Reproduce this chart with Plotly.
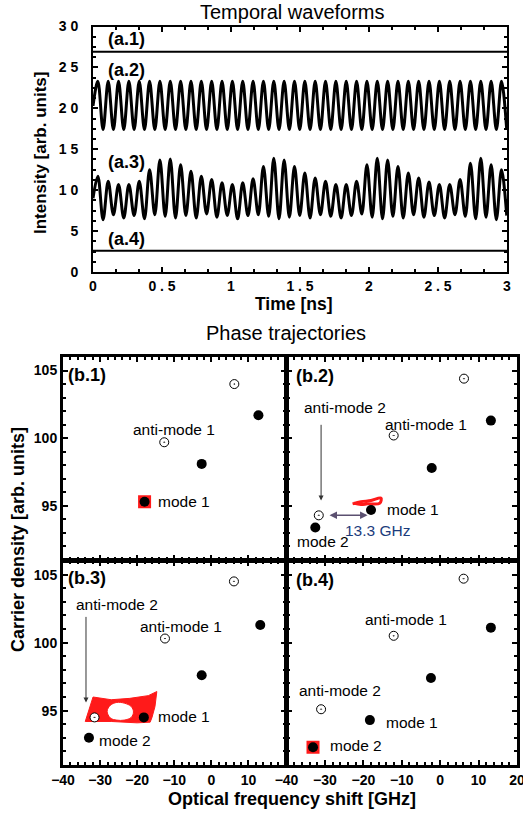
import plotly.graph_objects as go

W, H = 523, 814

# ---------------- data: temporal waveforms ----------------
peak_times = [0.035, 0.110, 0.185, 0.260, 0.335, 0.410, 0.485, 0.560, 0.635, 0.710,
              0.785, 0.860, 0.935, 1.010, 1.085, 1.160, 1.235, 1.310, 1.385, 1.460,
              1.535, 1.610, 1.685, 1.760, 1.835, 1.910, 1.985, 2.060, 2.135, 2.210,
              2.285, 2.360, 2.435, 2.510, 2.585, 2.660, 2.735, 2.810, 2.885, 2.960]
trough_times = [0.073, 0.148, 0.223, 0.298, 0.373, 0.448, 0.523, 0.598, 0.673, 0.748,
                0.823, 0.898, 0.973, 1.048, 1.123, 1.198, 1.273, 1.348, 1.423, 1.498,
                1.573, 1.648, 1.723, 1.798, 1.873, 1.948, 2.023, 2.098, 2.173, 2.248,
                2.323, 2.398, 2.473, 2.548, 2.623, 2.698, 2.773, 2.848, 2.923, 2.998]

a1_time = [0.0, 3.0]
a1_level = [26.9, 26.9]
a4_time = [0.0, 3.0]
a4_level = [2.6, 2.6]

a2_start = 20.3
a2_peaks = [23.3, 23.3, 23.3, 23.3, 23.3, 23.3, 23.3, 23.3, 23.3, 23.3,
            23.3, 23.3, 23.3, 23.3, 23.3, 23.3, 23.3, 23.3, 23.3, 23.3,
            23.3, 23.3, 23.3, 23.3, 23.3, 23.3, 23.3, 23.3, 23.3, 23.3,
            23.3, 23.3, 23.3, 23.3, 23.3, 23.3, 23.3, 23.3, 23.3, 23.3]
a2_troughs = [17.4, 17.4, 17.4, 17.4, 17.4, 17.4, 17.4, 17.4, 17.4, 17.4,
              17.4, 17.4, 17.4, 17.4, 17.4, 17.4, 17.4, 17.4, 17.4, 17.4,
              17.4, 17.4, 17.4, 17.4, 17.4, 17.4, 17.4, 17.4, 17.4, 17.4,
              17.4, 17.4, 17.4, 17.4, 17.4, 17.4, 17.4, 17.4, 17.4, 17.4]

a3_start = 9.0
a3_peaks = [11.7, 11.1, 10.7, 10.7, 11.1, 12.5, 13.7, 13.8, 13.1, 12.3,
            11.7, 11.3, 10.9, 10.7, 10.9, 11.4, 12.9, 13.9, 13.7, 12.9,
            12.1, 11.5, 11.1, 10.7, 10.7, 11.1, 13.1, 13.9, 13.7, 12.9,
            12.1, 11.5, 11.0, 10.7, 10.7, 11.3, 13.3, 13.9, 13.1, 12.5]
a3_troughs = [6.4, 7.0, 6.6, 6.9, 6.5, 7.0, 6.8, 6.6, 6.9, 6.6,
              7.1, 6.7, 6.9, 6.5, 6.9, 7.0, 6.8, 6.5, 6.7, 6.9,
              6.6, 7.0, 6.8, 6.6, 6.9, 7.1, 6.7, 6.5, 6.8, 6.6,
              7.0, 6.7, 6.9, 6.6, 7.0, 6.8, 6.5, 6.7, 6.4, 6.9]

# ---------------- data: phase trajectories ----------------
# filled = modes, hollow = anti-modes  (x: GHz, y: carrier density)
b1_mode_x = [-18.0, -2.6, 12.7]
b1_mode_y = [95.3, 98.1, 101.7]
b1_anti_x = [-12.7, 6.2]
b1_anti_y = [99.7, 104.0]

b2_mode_x = [-32.5, -18.0, -2.2, 13.2]
b2_mode_y = [93.4, 94.7, 97.8, 101.3]
b2_anti_x = [-31.6, -12.1, 6.2]
b2_anti_y = [94.3, 100.2, 104.4]
b2_traj_x = [-22.8, -20.6, -18.0, -15.4, -15.7, -18.9, -20.6, -22.6]
b2_traj_y = [95.15, 95.3, 95.4, 95.57, 95.2, 95.15, 95.1, 95.2]

b3_mode_x = [-33.0, -18.2, -2.6, 13.2]
b3_mode_y = [93.0, 94.5, 97.6, 101.3]
b3_anti_x = [-31.5, -12.5, 6.1]
b3_anti_y = [94.5, 100.3, 104.5]
b3_traj_x = [-31.9, -27.0, -22.0, -17.0, -14.7, -15.2, -16.0, -16.5, -20.0, -27.0, -34.0, -32.8, -31.9]
b3_traj_y = [96.0, 95.8, 95.9, 96.1, 96.4, 95.3, 94.5, 94.15, 94.1, 94.2, 94.2, 95.2, 96.0]
b3_hole_x = [-28.1, -27.2, -25.5, -23.5, -21.6, -21.0, -21.6, -23.5, -25.5, -27.2, -28.1]
b3_hole_y = [94.95, 95.4, 95.6, 95.55, 95.3, 94.9, 94.5, 94.3, 94.3, 94.45, 94.95]

b4_mode_x = [-33.1, -18.3, -2.4, 13.2]
b4_mode_y = [92.3, 94.3, 97.4, 101.1]
b4_anti_x = [-31.0, -12.1, 6.1]
b4_anti_y = [95.1, 100.5, 104.7]

b1_fixed = ([-18.0], [95.3])
b4_fixed = ([-33.1], [92.3])


def interleave(t0, v0, pt, pv, tt, tv):
    xs, ys = [0.0], [v0]
    for a, b, c, d in zip(pt, pv, tt, tv):
        xs += [a, c]
        ys += [b, d]
    return xs, ys


def dx(a, b):
    return [a / W, b / W]


def dy(top, bottom):
    return [1 - bottom / H, 1 - top / H]


fig = go.Figure()

# --- top panel traces
for xs, ys in [(a1_time, a1_level), (a4_time, a4_level)]:
    fig.add_trace(go.Scatter(x=xs, y=ys, mode="lines", line=dict(color="black", width=2),
                             xaxis="x", yaxis="y", showlegend=False, hoverinfo="skip"))
for start, pk, tr in [(a2_start, a2_peaks, a2_troughs), (a3_start, a3_peaks, a3_troughs)]:
    xs, ys = interleave(0.0, start, peak_times, pk, trough_times, tr)
    fig.add_trace(go.Scatter(x=xs, y=ys, mode="lines",
                             line=dict(color="black", width=3, shape="spline", smoothing=1.0),
                             xaxis="x", yaxis="y", showlegend=False, hoverinfo="skip"))

RED = "#ff1a1a"


def add_points(ax, mx, my, axx, axy, fixed=None):
    if fixed is not None:
        fig.add_trace(go.Scatter(x=fixed[0], y=fixed[1], mode="markers",
                                 marker=dict(symbol="square", size=13, color=RED),
                                 xaxis=ax, yaxis=ax.replace("x", "y"), showlegend=False))
    fig.add_trace(go.Scatter(x=mx, y=my, mode="markers",
                             marker=dict(symbol="circle", size=10, color="black"),
                             xaxis=ax, yaxis=ax.replace("x", "y"), showlegend=False))
    fig.add_trace(go.Scatter(x=axx, y=axy, mode="markers",
                             marker=dict(symbol="circle-dot", size=9, color="white",
                                         line=dict(color="black", width=1)),
                             xaxis=ax, yaxis=ax.replace("x", "y"), showlegend=False))


# b.2 trajectory
fig.add_trace(go.Scatter(x=b2_traj_x, y=b2_traj_y, mode="lines",
                         line=dict(color=RED, width=3, shape="spline"),
                         xaxis="x3", yaxis="y3", showlegend=False))
# b.3 trajectory
fig.add_trace(go.Scatter(x=b3_traj_x, y=b3_traj_y, mode="lines", fill="toself",
                         fillcolor=RED, line=dict(color=RED, width=1),
                         xaxis="x4", yaxis="y4", showlegend=False))
fig.add_trace(go.Scatter(x=b3_hole_x, y=b3_hole_y, mode="lines", fill="toself",
                         fillcolor="white", line=dict(color=RED, width=1, shape="spline"),
                         xaxis="x4", yaxis="y4", showlegend=False))

add_points("x2", b1_mode_x, b1_mode_y, b1_anti_x, b1_anti_y, fixed=b1_fixed)
add_points("x3", b2_mode_x, b2_mode_y, b2_anti_x, b2_anti_y)
add_points("x4", b3_mode_x, b3_mode_y, b3_anti_x, b3_anti_y)
add_points("x5", b4_mode_x, b4_mode_y, b4_anti_x, b4_anti_y, fixed=b4_fixed)

FONT = "Liberation Sans, Arial, sans-serif"
tickfont = dict(family=FONT, size=14, color="black", weight="bold")

common = dict(showline=True, linecolor="black", mirror="allticks", ticks="inside",
              tickcolor="black", showgrid=False, zeroline=False, tickfont=tickfont,
              automargin=False, ticklabeloverflow="allow")

layout = dict(
    width=W, height=H, margin=dict(l=0, r=0, t=0, b=0, pad=0, autoexpand=False),
    paper_bgcolor="white", plot_bgcolor="white", showlegend=False,
    font=dict(family=FONT, color="black"),
    xaxis=dict(domain=dx(93, 507), anchor="y", range=[0, 3],
               tickvals=[0, 0.5, 1, 1.5, 2, 2.5, 3],
               ticktext=["0", "0 . 5", "1", "1 . 5", "2", "2 . 5", "3"],
               linewidth=2, ticklen=5, tickwidth=2,
               minor=dict(dtick=1 / 6, ticklen=3, tickcolor="black", ticks="inside", tickwidth=1.5),
               **common),
    yaxis=dict(domain=dy(26.5, 272), anchor="x", range=[0, 30],
               tickvals=[0, 5, 10, 15, 20, 25, 30],
               ticktext=["0", "5", "1 0", "1 5", "2 0", "2 5", "3 0"],
               linewidth=2, ticklen=5, tickwidth=2, ticklabelstandoff=10,
               minor=dict(dtick=1.25, ticklen=3, tickcolor="black", ticks="inside", tickwidth=1.5),
               **common),
)

panels = {
    2: (dx(63, 285.5), dy(357, 560), False, True, [-40, -30, -20, -10, 0, 10, 20]),
    3: (dx(286.5, 517), dy(357, 560), False, False, [-40, -30, -20, -10, 0, 10, 20]),
    4: (dx(63, 285.5), dy(561, 765), True, True, [-40, -30, -20, -10, 0, 10]),
    5: (dx(286.5, 517), dy(561, 765), True, False, [-40, -30, -20, -10, 0, 10, 20]),
}
for i, (xd, yd, show_x, show_y, xt) in panels.items():
    layout[f"xaxis{i}"] = dict(domain=xd, anchor=f"y{i}", range=[-40, 20], tickvals=xt,
                               showticklabels=show_x, linewidth=3, ticklen=5, tickwidth=2,
                               minor=dict(dtick=2, ticklen=3, tickcolor="black", ticks="inside",
                                          tickwidth=1.5),
                               **common)
    layout[f"yaxis{i}"] = dict(domain=yd, anchor=f"x{i}", range=[91, 106],
                               tickvals=[95, 100, 105],
                               showticklabels=show_y, linewidth=3, ticklen=5, tickwidth=2,
                               minor=dict(dtick=1, ticklen=3, tickcolor="black", ticks="inside",
                                          tickwidth=1.5),
                               **common)

fig.update_layout(**layout)

ann = []


def paper_text(x, y, text, size, bold=False, angle=0):
    ann.append(dict(xref="paper", yref="paper", x=x / W, y=1 - y / H, text=text,
                    showarrow=False, textangle=angle, xanchor="center", yanchor="middle",
                    font=dict(family=FONT, size=size, color="black",
                              weight="bold" if bold else "normal")))


def data_text(ax, x, y, text, size=15.5, bold=False, color="black", xanchor="center"):
    ann.append(dict(xref=ax, yref=ax.replace("x", "y"), x=x, y=y, text=text,
                    showarrow=False, xanchor=xanchor, yanchor="middle",
                    font=dict(family=FONT, size=size, color=color,
                              weight="bold" if bold else "normal")))


paper_text(292, 12, "Temporal waveforms", 20)
paper_text(286, 333, "Phase trajectories", 20)
paper_text(293, 304, "Time [ns]", 17.5, bold=True)
paper_text(40, 153, "Intensity [arb. units]", 17, bold=True, angle=-90)
paper_text(18, 540, "Carrier density [arb. units]", 18, bold=True, angle=-90)
paper_text(292, 799, "Optical frequency shift [GHz]", 18, bold=True)

# top panel labels
for y, t in [(28.5, "(a.1)"), (24.7, "(a.2)"), (13.5, "(a.3)"), (4.0, "(a.4)")]:
    data_text("x", 0.24, y, t, size=18, bold=True)

# b panels
data_text("x2", -33.6, 104.7, "(b.1)", size=18, bold=True)
data_text("x2", -10.0, 100.66, "anti-mode 1")
data_text("x2", -7.4, 95.3, "mode 1")

data_text("x3", -32.7, 104.6, "(b.2)", size=18, bold=True)
data_text("x3", -24.9, 102.3, "anti-mode 2")
data_text("x3", -3.7, 101.0, "anti-mode 1")
data_text("x3", -7.2, 94.7, "mode 1")
data_text("x3", -30.5, 92.4, "mode 2")
data_text("x3", -16.3, 93.2, "13.3 GHz", color="#1c3c7c")

data_text("x4", -33.6, 104.75, "(b.3)", size=18, bold=True)
data_text("x4", -25.4, 102.8, "anti-mode 2")
data_text("x4", -8.2, 101.2, "anti-mode 1")
data_text("x4", -7.4, 94.6, "mode 1")
data_text("x4", -23.4, 92.8, "mode 2")

data_text("x5", -32.7, 104.6, "(b.4)", size=18, bold=True)
data_text("x5", -8.9, 101.7, "anti-mode 1")
data_text("x5", -26.0, 96.5, "anti-mode 2")
data_text("x5", -7.4, 94.1, "mode 1")
data_text("x5", -21.9, 92.4, "mode 2")

# arrows
ann.append(dict(xref="x3", yref="y3", axref="x3", ayref="y3", x=-31.0, y=95.4,
                ax=-31.0, ay=101.1, text="", showarrow=True, arrowhead=2, arrowsize=1,
                arrowwidth=1, arrowcolor="#333333"))
ann.append(dict(xref="x4", yref="y4", axref="x4", ayref="y4", x=-33.8, y=95.6,
                ax=-33.8, ay=102.0, text="", showarrow=True, arrowhead=2, arrowsize=1,
                arrowwidth=1, arrowcolor="#333333"))
ann.append(dict(xref="x3", yref="y3", axref="x3", ayref="y3", x=-18.9, y=94.3,
                ax=-29.2, ay=94.3, text="", showarrow=True, arrowhead=2, startarrowhead=2,
                arrowside="end+start", arrowsize=1, arrowwidth=1.5, arrowcolor="#5b5070"))

fig.update_layout(annotations=ann)
fig.write_html("out.html", config={"displayModeBar": False},
               post_script="document.body.style.margin='0';document.body.style.overflow='hidden';")
